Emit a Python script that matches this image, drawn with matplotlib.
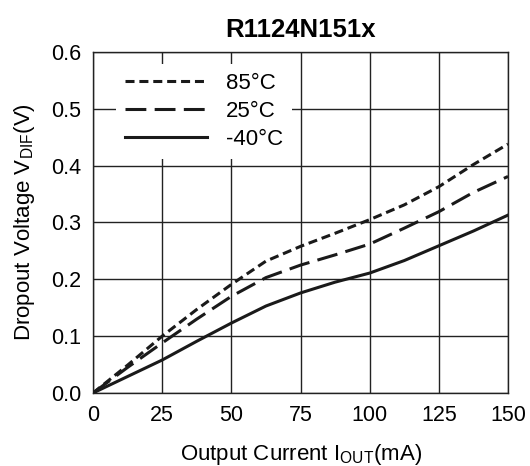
import matplotlib
matplotlib.use("Agg")
import matplotlib.pyplot as plt

plt.rcParams["font.family"] = ["Liberation Sans", "DejaVu Sans"]
plt.rcParams["lines.scale_dashes"] = False

# Dropout voltage vs output current
iout = [0, 12.5, 25, 37.5, 50, 62.5, 75, 87.5, 100, 112.5, 125, 137.5, 150]
v_85 = [0.0, 0.049, 0.100, 0.147, 0.191, 0.232, 0.258, 0.281, 0.305, 0.331, 0.363, 0.402, 0.438]
v_25 = [0.0, 0.045, 0.088, 0.130, 0.170, 0.203, 0.225, 0.243, 0.262, 0.290, 0.319, 0.353, 0.381]
v_m40 = [0.0, 0.029, 0.058, 0.091, 0.123, 0.153, 0.176, 0.195, 0.211, 0.233, 0.259, 0.285, 0.313]
labels = ["85°C", "25°C", "-40°C"]
xticks = [0, 25, 50, 75, 100, 125, 150]
yticks = [0.0, 0.1, 0.2, 0.3, 0.4, 0.5, 0.6]

fig = plt.figure(figsize=(5.3, 4.66), dpi=100)
ax = fig.add_axes([0.1755, 0.1567, 0.783, 0.7317])

ax.plot(iout, v_85, color="#1a1a1a", lw=2.2, dashes=(6.5, 3.5), label=labels[0], zorder=3)
ax.plot(iout, v_25, color="#1a1a1a", lw=2.2, dashes=(15, 6), label=labels[1], zorder=3)
ax.plot(iout, v_m40, color="#1a1a1a", lw=2.2, label=labels[2], zorder=3)

ax.set_xlim(0, 150)
ax.set_ylim(0, 0.6)
ax.set_xticks(xticks)
ax.set_yticks(yticks)
ax.set_xticklabels([str(t) for t in xticks])
ax.set_yticklabels([f"{t:.1f}" for t in yticks])
ax.tick_params(length=0, labelsize=15.5)
ax.tick_params(axis="y", pad=8.5)
ax.tick_params(axis="x", pad=9)
ax.grid(True, color="#222222", lw=1.0)
ax.set_axisbelow(True)
for s in ax.spines.values():
    s.set_linewidth(1.0)
    s.set_color("#222222")

ax.set_title("R1124N151x", fontsize=18.5, fontweight="bold", pad=11)
ax.set_xlabel(r"Output Current I$\mathregular{_{OUT}}$(mA)", fontsize=16, labelpad=11)
ax.set_ylabel(r"Dropout Voltage V$\mathregular{_{DIF}}$(V)", fontsize=16, labelpad=10)

leg = ax.legend(loc="upper left", bbox_to_anchor=(0.055, 0.965), fontsize=16,
                handlelength=3.7, handletextpad=0.85, labelspacing=0.32,
                frameon=True, facecolor="white", edgecolor="none", framealpha=1,
                borderpad=0.4, borderaxespad=0, fancybox=False)

plt.savefig("out.png", dpi=100)
plt.close()
